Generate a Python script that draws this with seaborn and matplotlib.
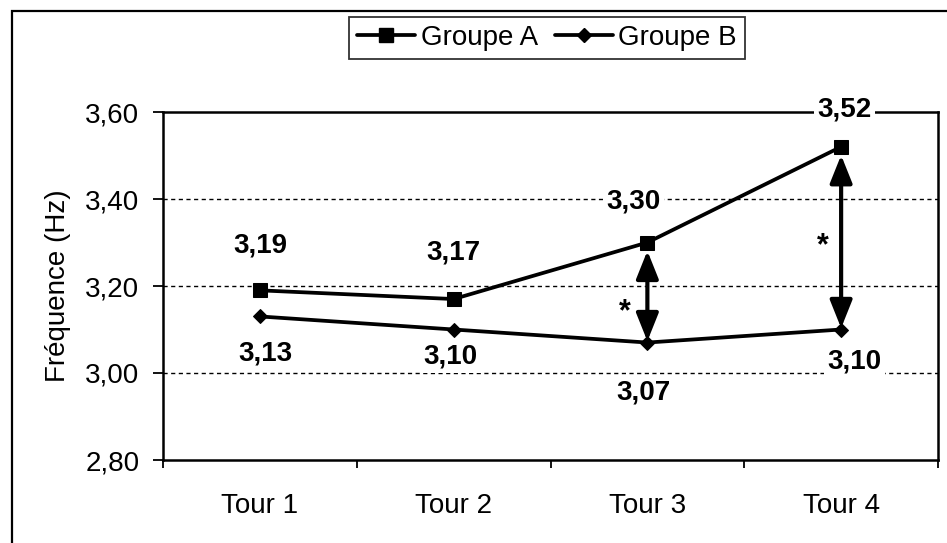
import matplotlib
matplotlib.use("Agg")
import matplotlib.pyplot as plt
from matplotlib.patches import Rectangle, FancyArrowPatch
from matplotlib.lines import Line2D
import numpy as np
import pandas as pd
import seaborn as sns

# Data
tours = ["Tour 1", "Tour 2", "Tour 3", "Tour 4"]
groupe_a = [3.19, 3.17, 3.30, 3.52]
groupe_b = [3.13, 3.10, 3.07, 3.10]
y_ticks = [2.80, 3.00, 3.20, 3.40, 3.60]
significant = ["Tour 3", "Tour 4"]

sns.set_theme(style="white")
plt.rcParams["font.family"] = ["Liberation Sans", "DejaVu Sans"]
plt.rcParams.update({
    "text.color": "black",
    "axes.labelcolor": "black",
    "xtick.color": "black",
    "ytick.color": "black",
})

df = pd.DataFrame({
    "tour": tours * 2,
    "pos": list(range(len(tours))) * 2,
    "freq": groupe_a + groupe_b,
    "groupe": ["Groupe A"] * len(tours) + ["Groupe B"] * len(tours),
})

W, H = 947, 543
fig = plt.figure(figsize=(W / 100, H / 100), dpi=100)
fig.patch.set_facecolor("white")

# outer chart frame (left and top edges visible)
fig.add_artist(Rectangle((12 / W, -0.05), 1.1, 1 - 11 / H + 0.05,
                         transform=fig.transFigure, fill=False,
                         edgecolor="black", linewidth=1.6))

ax = fig.add_axes([163 / W, 1 - 460 / H, (938 - 163) / W, (460 - 112) / H])

sns.lineplot(data=df, x="pos", y="freq", hue="groupe", style="groupe",
             markers={"Groupe A": "s", "Groupe B": "D"}, dashes=False,
             palette=["black", "black"], linewidth=2.7, markersize=10,
             markeredgecolor="black", legend=False, ax=ax, zorder=4)
for ln in ax.lines:
    if ln.get_marker() == "D":
        ln.set_markersize(7.5)

ax.set_xlim(-0.5, len(tours) - 0.5)
ax.set_ylim(y_ticks[0], y_ticks[-1])

# category boundaries carry the tick marks, centres carry the labels
ax.set_xticks(np.arange(-0.5, len(tours)))
ax.set_xticklabels([])
ax.set_xticks(np.arange(len(tours)), minor=True)
ax.set_xticklabels(tours, minor=True)
ax.tick_params(axis="x", which="major", direction="out", length=6, width=1.3,
               bottom=True, color="black")
ax.tick_params(axis="x", which="minor", length=0, pad=24, labelsize=20)

ax.set_yticks(y_ticks)
ax.set_yticklabels([f"{v:.2f}".replace(".", ",") for v in y_ticks])
ax.tick_params(axis="y", direction="out", length=7, width=1.3, left=True,
               color="black", pad=10, labelsize=20)

ax.set_xlabel("")
ax.set_ylabel("Fréquence (Hz)", fontsize=20, labelpad=10)

for s in ax.spines.values():
    s.set_color("black")
    s.set_linewidth(1.8)

for v in y_ticks[1:-1]:
    ax.axhline(v, color="black", linestyle=(0, (3, 2.5)), linewidth=1.0, zorder=1)

# value labels
off_a = [(0, 45), (0, 47), (-14, 41), (3, 37)]
off_b = [(6, -37), (-3, -27), (-4, -50), (13, -32)]
for vals, offs in ((groupe_a, off_a), (groupe_b, off_b)):
    for i, (v, o) in enumerate(zip(vals, offs)):
        ax.annotate(f"{v:.2f}".replace(".", ","), (i, v), xytext=o,
                    textcoords="offset pixels", ha="center", va="center",
                    fontsize=20, fontweight="bold", zorder=6,
                    bbox=dict(boxstyle="square,pad=0.12", facecolor="white",
                              edgecolor="none"))

# significance arrows between groups
star_offs = {"Tour 3": (-23, -20), "Tour 4": (-18, -8)}
for t in significant:
    i = tours.index(t)
    a, b = groupe_a[i], groupe_b[i]
    arr = FancyArrowPatch((i, a), (i, b),
                          arrowstyle="<|-|>,head_length=0.85,head_width=0.34",
                          mutation_scale=20, linewidth=3.0, color="black",
                          shrinkA=6, shrinkB=1, zorder=5)
    ax.add_patch(arr)
    ax.annotate("*", (i, (a + b) / 2), xytext=star_offs[t],
                textcoords="offset pixels", ha="center", va="center",
                fontsize=22, fontweight="bold", zorder=6)

# legend
handles = [
    Line2D([], [], color="black", linewidth=2.7, marker="s", markersize=10),
    Line2D([], [], color="black", linewidth=2.7, marker="D", markersize=7.5),
]
leg = fig.legend(handles, ["Groupe A", "Groupe B"], loc="center",
                 bbox_to_anchor=(547 / W, 1 - 38 / H), ncol=2, fontsize=20,
                 frameon=True, fancybox=False, shadow=False, handlelength=2.1,
                 handletextpad=0.2, columnspacing=0.6, borderpad=0.3)
leg.get_frame().set_edgecolor("black")
leg.get_frame().set_linewidth(1.3)

fig.savefig("out.png", dpi=100, facecolor="white")
